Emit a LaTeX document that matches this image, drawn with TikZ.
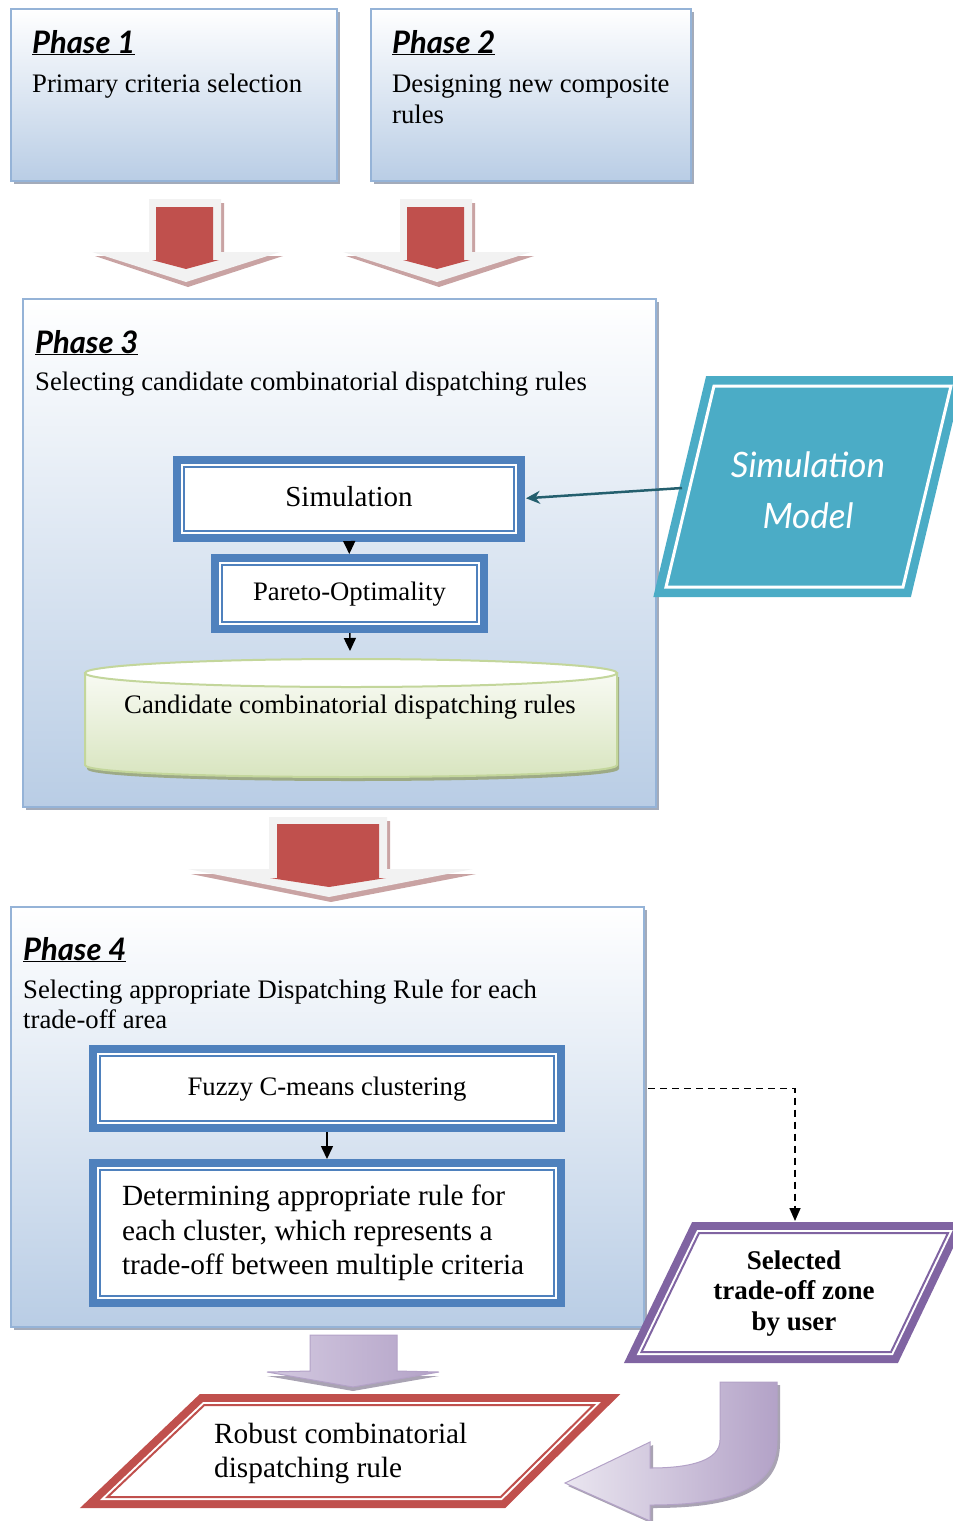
\documentclass[tikz,border=0pt]{standalone}
\usepackage{fontspec}
\setmainfont{Liberation Serif}
\newfontfamily\handfont{Lato}
\usetikzlibrary{arrows.meta,shadows}

\definecolor{phaseline}{HTML}{95B3D7}
\definecolor{phasefill}{HTML}{B9CDE5}
\definecolor{boxshadow}{HTML}{A3ABBA}
\definecolor{bandblue}{HTML}{4F81BD}
\definecolor{cylline}{HTML}{C3D69B}
\definecolor{cyltop}{HTML}{F8FAF3}
\definecolor{cylbottom}{HTML}{D7E4BD}
\definecolor{cylshadow}{HTML}{9DAA86}
\definecolor{simteal}{HTML}{4BACC6}
\definecolor{simarrow}{HTML}{245F6E}
\definecolor{arrowred}{HTML}{C0504D}
\definecolor{arrowgray}{HTML}{F2F2F2}
\definecolor{arrowshade}{HTML}{C9A3A3}
\definecolor{selpurple}{HTML}{8064A2}
\definecolor{robred}{HTML}{C0504D}
\definecolor{lavlight}{HTML}{EAE6F0}
\definecolor{lavmid}{HTML}{D3C9E0}
\definecolor{lavdark}{HTML}{B3A2C7}
\definecolor{lavshadow}{HTML}{A9A3B3}

\tikzset{
  phasebox/.style={draw=phaseline, line width=2pt, top color=white, bottom color=phasefill,
    drop shadow={shadow xshift=3pt, shadow yshift=-3pt, fill=boxshadow, opacity=1},
    anchor=north west, inner sep=0pt},
  bandbox/.style={preaction={draw=#1, line width=22pt}, preaction={draw=white, line width=6pt},
    draw=#1, line width=2pt, fill=white, inner sep=0pt},
  heading/.style={anchor=base west, inner sep=0pt, font=\handfont\bfseries\itshape\fontsize{31}{34}\selectfont},
  bodytext/.style={anchor=base west, inner sep=0pt, font=\fontsize{26.7}{31}\selectfont},
  simtext/.style={anchor=base, inner sep=0pt, text=white, text width=220pt, align=flush center,
    font=\handfont\itshape\fontsize{35}{51}\selectfont},
  blkarrow/.style={line width=1.5pt, -{Triangle[length=13pt,width=12pt]}},
  simarr/.style={draw=simarrow, line width=2.5pt, -{Stealth[length=14pt,width=13pt]}, shorten >=11pt},
  dasharrow/.style={line width=1.5pt, dash pattern=on 7pt off 5pt, -{Triangle[length=13pt,width=11pt]}},
}

\begin{document}
\begin{tikzpicture}[x=1pt, y=-1pt, line join=miter]
\useasboundingbox (0,0) rectangle (953,1521);
\clip (0,0) rectangle (953,1521);

% ---------- Phases 1 and 2 ----------
\node[phasebox, minimum width=326pt, minimum height=172pt] (ph1) at (10,8) {};
\node[phasebox, minimum width=320pt, minimum height=172pt] (ph2) at (370,8) {};
\node[heading] (h1) at (32,53) {\underline{Phase 1}};
\node[bodytext] (t1) at (32,92) {Primary criteria selection};
\node[heading] (h2) at (392,53) {\underline{Phase 2}};
\node[bodytext, text width=300pt, align=flush left] (t2) at (392,92) {Designing new composite\\rules};

% ---------- red block arrows below phases 1 and 2 ----------
\foreach \dx in {0,251}{
  \begin{scope}[xshift=\dx pt]
    \fill[arrowshade] (151,203) -- (224,203) -- (224,256) -- (283,256) -- (188,287) -- (95,256) -- (151,256) -- cycle;
    \fill[arrowgray] (149,199) -- (221,199) -- (221,252) -- (280,252) -- (186,282) -- (92,252) -- (149,252) -- cycle;
    \fill[arrowred] (156,207) -- (213,207) -- (213,260) -- (219,260) -- (186,269) -- (152,260) -- (156,260) -- cycle;
  \end{scope}
}

% ---------- Phase 3 ----------
\node[phasebox, minimum width=633pt, minimum height=508pt] (ph3) at (22,298) {};
\node[heading] (h3) at (35,353) {\underline{Phase 3}};
\node[bodytext] (t3) at (35,390) {Selecting candidate combinatorial dispatching rules};

\node[bandbox=bandblue, minimum width=330pt, minimum height=64pt, font=\fontsize{29}{34}\selectfont,
  text height=20pt, text depth=6pt] (sim) at (349,499) {Simulation};
\node[bandbox=bandblue, minimum width=255pt, minimum height=57pt, font=\fontsize{26.7}{30}\selectfont,
  text height=18pt, text depth=5pt] (pareto) at (349.5,593.5) {Pareto-Optimality};

% database cylinder
\fill[cylshadow] (87,677) -- (87,769) .. controls (87,785) and (619,785) .. (619,769) -- (619,677) -- cycle;
\path[draw=cylline, line width=2pt, top color=cyltop, bottom color=cylbottom]
  (85,673) -- (85,765) .. controls (85,781) and (617,781) .. (617,765) -- (617,673) -- cycle;
\draw[cylline, line width=2pt, fill=white] (351,673) ellipse [x radius=266, y radius=14];
\node[bodytext, anchor=base] (cand) at (350,713) {Candidate combinatorial dispatching rules};
\coordinate (cylin) at (350,651);

\draw[blkarrow, shorten <=10pt, shorten >=10pt] (sim) -- (pareto);
\draw[blkarrow, shorten <=10pt] (pareto) -- (cylin);

% simulation model input
\path[fill=simteal, preaction={draw=simteal, line width=20pt}, draw=white, line width=3pt]
  (714,386) -- (951,386) -- (903,587) -- (666,587) -- cycle;
\node[simtext] (smodel) at (808,477) {Simulation\\Model};
\coordinate (smedge) at (682,488);
\draw[simarr] (smedge) -- (sim.east);

% ---------- red block arrow below phase 3 ----------
\fill[arrowshade] (271,821) -- (390,821) -- (390,874) -- (476,874) -- (331,902) -- (191,874) -- (271,874) -- cycle;
\fill[arrowgray] (269,817) -- (387,817) -- (387,869) -- (473,869) -- (329,897) -- (188,869) -- (269,869) -- cycle;
\fill[arrowred] (277,824) -- (379,824) -- (379,878) -- (386,878) -- (329,887) -- (270,878) -- (277,878) -- cycle;

% ---------- Phase 4 ----------
\node[phasebox, minimum width=633pt, minimum height=420pt] (ph4) at (10,906) {};
\node[heading] (h4) at (23,960) {\underline{Phase 4}};
\node[bodytext, text width=600pt, align=flush left, font=\fontsize{26.7}{30}\selectfont] (t4) at (23,998)
  {Selecting appropriate Dispatching Rule for each\\trade-off area};
\node[bandbox=bandblue, minimum width=454pt, minimum height=65pt, font=\fontsize{26.7}{30}\selectfont,
  text height=18pt, text depth=5pt] (fuzzy) at (327,1088.5) {Fuzzy C-means clustering};
\node[bandbox=bandblue, minimum width=454pt, minimum height=126pt, text width=410pt, align=flush left,
  font=\fontsize{29.3}{34.5}\selectfont] (det) at (327,1233)
  {Determining appropriate rule for\\each cluster, which represents a\\trade-off between multiple criteria};
\draw[blkarrow, shorten <=10pt, shorten >=10pt] (fuzzy) -- (det);

% ---------- user selection ----------
\path[bandbox=selpurple] (699,1233) -- (948,1233) -- (891,1352) -- (641.5,1352) -- cycle;
\node[anchor=base, inner sep=0pt, text width=250pt, align=flush center,
  font=\bfseries\fontsize{27}{30.5}\selectfont] (sel) at (794,1269) {Selected\\trade-off zone\\by user};
\coordinate (seltop) at (795,1221);
\draw[dasharrow] (ph4.east |- fuzzy.center) ++(3,0) -| (seltop);

% ---------- lavender arrows ----------
\fill[lavshadow] (267,1376) -- (439,1376) -- (353,1391) -- cycle;
\path[draw=lavdark, line width=1pt, left color=lavmid, middle color=lavlight, right color=lavdark]
  (310,1335) -- (397,1335) -- (397,1371) -- (439,1372) -- (353,1387) -- (267,1372) -- (310,1371) -- cycle;

\fill[lavshadow, shift={(3,3)}]
  (720,1382) -- (720,1440) .. controls (720,1460) and (692,1468) .. (650,1468) -- (650,1442) -- (565,1483)
  -- (650,1521) -- (650,1505) .. controls (728,1505) and (777,1490) .. (777,1440) -- (777,1382) -- cycle;
\path[draw=lavdark, line width=1pt, left color=lavlight, right color=lavdark]
  (720,1382) -- (720,1440) .. controls (720,1460) and (692,1468) .. (650,1468) -- (650,1442) -- (565,1483)
  -- (650,1521) -- (650,1505) .. controls (728,1505) and (777,1490) .. (777,1440) -- (777,1382) -- cycle;

% ---------- result ----------
\path[bandbox=robred] (204.3,1405) -- (593.6,1405) -- (500.7,1497) -- (107.5,1497) -- cycle;
\node[anchor=base west, inner sep=0pt, text width=360pt, align=flush left,
  font=\fontsize{29.3}{34}\selectfont] (robust) at (214,1443) {Robust combinatorial\\dispatching rule};

\end{tikzpicture}
\end{document}
